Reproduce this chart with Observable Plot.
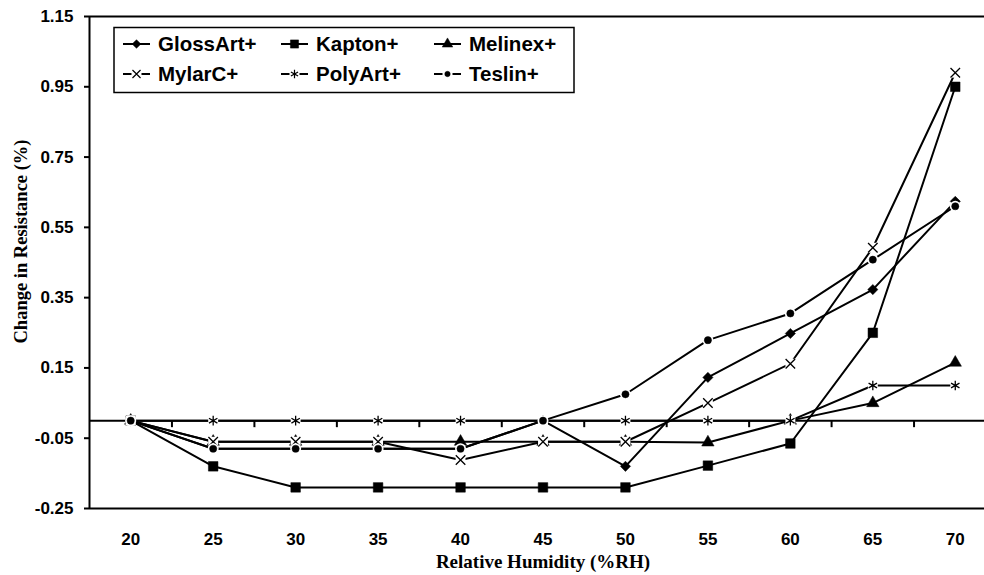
<!DOCTYPE html>
<html>
<head>
<meta charset="utf-8">
<script src="https://cdn.jsdelivr.net/npm/d3@7"></script>
<script src="https://cdn.jsdelivr.net/npm/@observablehq/plot@0.6"></script>
<style>
  html, body { margin: 0; padding: 0; background: #fff; }
  #chart { position: relative; width: 984px; height: 575px; overflow: hidden; }
</style>
</head>
<body>
<div id="chart"></div>
<script>
// ---- data ----
const humidity = [20, 25, 30, 35, 40, 45, 50, 55, 60, 65, 70];
const seriesNames = ["GlossArt+", "Kapton+", "Melinex+", "MylarC+", "PolyArt+", "Teslin+"];
const glossArt = [0, -0.08, -0.08, -0.08, -0.08, 0, -0.13, 0.123, 0.248, 0.373, 0.624];
const kapton   = [0, -0.13, -0.19, -0.19, -0.19, -0.19, -0.19, -0.128, -0.065, 0.25, 0.95];
const melinex  = [0, -0.06, -0.06, -0.06, -0.06, -0.06, -0.06, -0.062, 0, 0.05, 0.165];
const mylarC   = [0, -0.06, -0.06, -0.06, -0.112, -0.06, -0.06, 0.05, 0.162, 0.492, 0.99];
const polyArt  = [0, 0, 0, 0, 0, 0, 0, 0, 0, 0.10, 0.10];
const teslin   = [0, -0.08, -0.08, -0.08, -0.08, 0, 0.075, 0.229, 0.305, 0.458, 0.61];
const xTicks = [20, 25, 30, 35, 40, 45, 50, 55, 60, 65, 70];
const xBoundaries = [22.5, 27.5, 32.5, 37.5, 42.5, 47.5, 52.5, 57.5, 62.5, 67.5];
const yTicks = [-0.25, -0.05, 0.15, 0.35, 0.55, 0.75, 0.95, 1.15];
const xTitle = "Relative Humidity (%RH)";
const yTitle = "Change in Resistance (%)";

const allValues = [glossArt, kapton, melinex, mylarC, polyArt, teslin];
const symbols = ["diamond2", "square", "triangle", "times", "asterisk", "circle"];
const symbolR = [4.6, 5.4, 4.6, 4.4, 4.6, 3.6];
const whiteBg = [false, false, false, true, true, true];

const rows = seriesNames.map((name, i) =>
  humidity.map((x, j) => ({series: name, x, y: allValues[i][j]})));

const W = 984, H = 575;
const marks = [
  Plot.ruleY([yTicks[0], yTicks[yTicks.length - 1]], {stroke: "#000", strokeWidth: 2}),
  Plot.ruleX([17.5], {stroke: "#000", strokeWidth: 2}),
  Plot.ruleY([0], {stroke: "#000", strokeWidth: 2}),
  Plot.ruleX(xBoundaries, {x: d => d, y1: 0, y2: -0.02, stroke: "#000", strokeWidth: 2}),
  Plot.axisY({ticks: yTicks, tickSize: 5, tickPadding: 11, tickFormat: d => d.toFixed(2),
    label: null, fontSize: 17, fontWeight: "bold", strokeWidth: 2}),
  Plot.axisX({ticks: xTicks, tickSize: 0, tickPadding: 24, tickFormat: d => String(d),
    label: null, fontSize: 17, fontWeight: "bold"}),
  Plot.text([xTitle], {frameAnchor: "bottom", text: d => d, dy: 53, dx: 6, textAnchor: "middle",
    fontFamily: "Liberation Serif", fontWeight: "bold", fontSize: 19, lineAnchor: "middle"}),
  Plot.text([yTitle], {frameAnchor: "left", text: d => d, rotate: -90, dx: -68, dy: -21, textAnchor: "middle",
    fontFamily: "Liberation Serif", fontWeight: "bold", fontSize: 18.5, lineAnchor: "middle"})
];

rows.forEach((data, i) => {
  marks.push(Plot.line(data, {x: "x", y: "y", stroke: "#000", strokeWidth: 2}));
  if (whiteBg[i]) {
    marks.push(Plot.dot(data, {x: "x", y: "y", symbol: symbols[i] === "circle" ? "circle" : "square",
      r: symbols[i] === "circle" ? 5.5 : 5.6, fill: "#fff", stroke: "none"}));
  }
  const filled = !["times", "asterisk"].includes(symbols[i]);
  marks.push(Plot.dot(data, {x: "x", y: "y", symbol: symbols[i], r: symbolR[i],
    fill: filled ? "#000" : "none", stroke: "#000", strokeWidth: filled ? 0.5 : 1.3}));
});

const chart = Plot.plot({
  width: W,
  height: H,
  marginLeft: 89,
  marginRight: 0,
  marginTop: 16,
  marginBottom: 67,
  x: {type: "linear", domain: [17.5, 72.5], range: [89, 996]},
  y: {domain: [-0.25, 1.15]},
  style: {fontFamily: "Liberation Sans, Arial, sans-serif", color: "#000", background: "#fff"},
  marks
});

document.getElementById("chart").appendChild(chart);

// ---- legend (inside the plot area) ----
const svg = d3.select(chart);
const lg = svg.append("g").attr("class", "legend").attr("text-anchor", "start");
lg.append("rect").attr("x", 114).attr("y", 27.5).attr("width", 460).attr("height", 65)
  .attr("fill", "#fff").attr("stroke", "#000").attr("stroke-width", 1.5);
const colStart = [123, 281, 434];
const rowY = [44, 74];
const d3Symbols = {diamond2: d3.symbolDiamond2, square: d3.symbolSquare, triangle: d3.symbolTriangle,
  times: d3.symbolTimes, asterisk: d3.symbolAsterisk, circle: d3.symbolCircle};
seriesNames.forEach((name, i) => {
  const cx = colStart[i % 3], cy = rowY[Math.floor(i / 3)];
  const g = lg.append("g");
  g.append("line").attr("x1", cx).attr("x2", cx + 27).attr("y1", cy).attr("y2", cy)
    .attr("stroke", "#000").attr("stroke-width", 2);
  const mx = cx + 13.5;
  if (whiteBg[i]) {
    g.append("rect").attr("x", mx - 5).attr("y", cy - 5).attr("width", 10).attr("height", 10).attr("fill", "#fff");
  }
  const filled = !["times", "asterisk"].includes(symbols[i]);
  const r = symbolR[i] * (symbols[i] === "circle" ? 0.75 : 0.85);
  g.append("path").attr("transform", `translate(${mx},${cy})`)
    .attr("d", d3.symbol(d3Symbols[symbols[i]], Math.PI * r * r)())
    .attr("fill", filled ? "#000" : "none").attr("stroke", "#000").attr("stroke-width", filled ? 0.5 : 1.2);
  g.append("text").attr("x", cx + 35).attr("y", cy).attr("dy", "0.36em")
    .attr("text-anchor", "start")
    .attr("font-family", "Liberation Sans, Arial, sans-serif").attr("font-weight", "bold")
    .attr("font-size", 20.5).attr("fill", "#000").text(name);
});
</script>
</body>
</html>
